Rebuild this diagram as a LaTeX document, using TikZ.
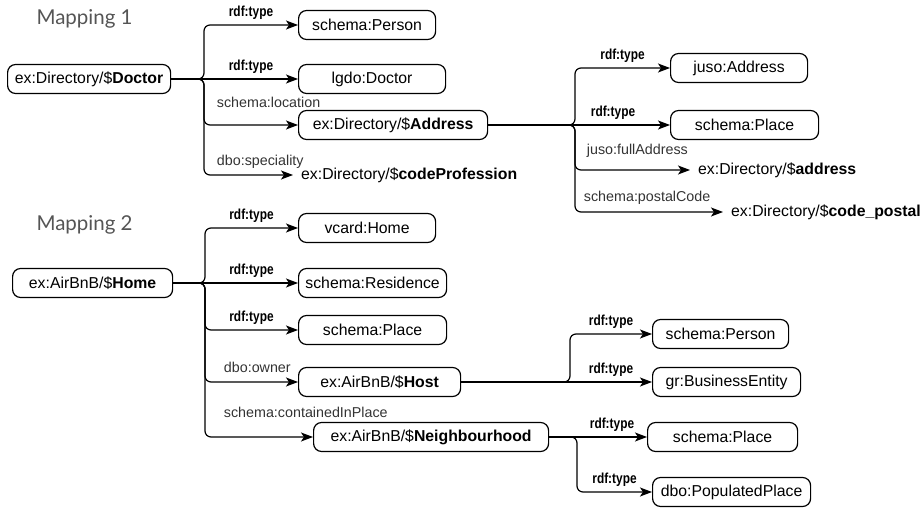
\documentclass[tikz,border=0pt]{standalone}
\usepackage{fontspec}
\setmainfont{Liberation Sans}
\newfontfamily\mapfont{Lato}
\newfontfamily\condfont[FakeStretch=0.82]{Liberation Sans}
\usetikzlibrary{arrows.meta}
\definecolor{labelgray}{HTML}{333333}
\definecolor{titlegray}{HTML}{555555}

\tikzset{
	entity/.style={draw, rounded corners=8pt, line width=1.2pt, minimum height=29pt, anchor=west, inner xsep=4pt, font=\fontsize{15.8}{18}\selectfont},
	literal/.style={anchor=west, inner xsep=8pt, font=\fontsize{15.8}{18}\selectfont},
	link/.style={line width=1.2pt, rounded corners=6pt, -{Stealth[length=12pt, width=9pt, inset=3pt]}},
	typelbl/.style={above, pos=.75, yshift=3pt, inner sep=2pt, font={\condfont\bfseries\fontsize{14.5}{16}\selectfont}},
	proplbl/.style={anchor=base west, pos=.5, text=labelgray, font=\fontsize{14.3}{16}\selectfont},
	mapping/.style={anchor=base west, text=titlegray, font={\mapfont\fontsize{20.5}{24}\selectfont}}
}

\begin{document}
\begin{tikzpicture}[x=1pt, y=-1pt]
		\useasboundingbox (0,0) rectangle (922,508);
		% mapping 1
		\node[mapping] (map1) at (33,25) {Mapping 1};
		\node[entity, minimum width=163pt] (doctor) at (7,79) {ex:Directory/\$\textbf{Doctor}};
		\node[entity, minimum width=137pt] (person) at (298,25) {schema:Person};
		\node[entity, minimum width=147pt] (lgdo) at (298,79) {lgdo:Doctor};
		\node[entity, minimum width=189pt] (address) at (298,125) {ex:Directory/\$\textbf{Address}};
		\node[literal] (codeprof) at (293,175) {ex:Directory/\$\textbf{codeProfession}};
		\node[entity, minimum width=137pt] (jusoaddr) at (670,68) {juso:Address};
		\node[entity, minimum width=148pt] (place1) at (670,125) {schema:Place};
		\node[literal] (fulladdr) at (690,170) {ex:Directory/\$\textbf{address}};
		\node[literal] (postal) at (723,212) {ex:Directory/\$\textbf{code\_postal}};
		\coordinate (b1) at (204,79);
		\coordinate (b2) at (575,125);
		\draw[link] (doctor.east) -- (b1) |- node[typelbl] {rdf:type} (person.west);
		\draw[link] (doctor.east) -- (b1) -- node[typelbl, pos=.5] {rdf:type} (lgdo.west);
		\draw[link] (doctor.east) -- (b1) |- node[proplbl, xshift=9pt, yshift=17pt] {schema:location} (address.west);
		\draw[link] (doctor.east) -- (b1) |- node[proplbl, xshift=9pt, yshift=9pt] {dbo:speciality} (codeprof.west);
		\draw[link] (address.east) -- (b2) |- node[typelbl] {rdf:type} (jusoaddr.west);
		\draw[link] (address.east) -- (b2) -- node[typelbl, pos=.4] {rdf:type} (place1.west);
		\draw[link] (address.east) -- (b2) |- node[proplbl, xshift=8pt, yshift=15pt] {juso:fullAddress} (fulladdr.west);
		\draw[link] (address.east) -- (b2) |- node[proplbl, xshift=5pt, yshift=10pt] {schema:postalCode} (postal.west);
		% mapping 2
		\node[mapping] (map2) at (33,230) {Mapping 2};
		\node[entity, minimum width=160pt] (home) at (12,283) {ex:AirBnB/\$\textbf{Home}};
		\node[entity, minimum width=137pt] (vcard) at (298,228) {vcard:Home};
		\node[entity, minimum width=148pt] (residence) at (298,283) {schema:Residence};
		\node[entity, minimum width=148pt] (place2) at (298,330) {schema:Place};
		\node[entity, minimum width=162pt] (host) at (298,382) {ex:AirBnB/\$\textbf{Host}};
		\node[entity, minimum width=235pt] (neigh) at (313,437) {ex:AirBnB/\$\textbf{Neighbourhood}};
		\node[entity, minimum width=136pt] (person2) at (652,334) {schema:Person};
		\node[entity, minimum width=148pt] (business) at (652,382) {gr:BusinessEntity};
		\node[entity, minimum width=150pt] (place3) at (647,437) {schema:Place};
		\node[entity, minimum width=158pt] (populated) at (652,492) {dbo:PopulatedPlace};
		\coordinate (b3) at (205,283);
		\coordinate (b4) at (570,382);
		\coordinate (b5) at (577,437);
		\draw[link] (home.east) -- (b3) |- node[typelbl] {rdf:type} (vcard.west);
		\draw[link] (home.east) -- (b3) -- node[typelbl, pos=.5] {rdf:type} (residence.west);
		\draw[link] (home.east) -- (b3) |- node[typelbl] {rdf:type} (place2.west);
		\draw[link] (home.east) -- (b3) |- node[proplbl, xshift=15pt, yshift=10pt] {dbo:owner} (host.west);
		\draw[link] (home.east) -- (b3) |- node[proplbl, xshift=15pt, yshift=20pt] {schema:containedInPlace} (neigh.west);
		\draw[link] (host.east) -- (b4) |- node[typelbl] {rdf:type} (person2.west);
		\draw[link] (host.east) -- (b4) -- node[typelbl, pos=.5] {rdf:type} (business.west);
		\draw[link] (neigh.east) -- (b5) -- node[typelbl, pos=.5] {rdf:type} (place3.west);
		\draw[link] (neigh.east) -- (b5) |- node[typelbl] {rdf:type} (populated.west);
	\end{tikzpicture}
\end{document}
